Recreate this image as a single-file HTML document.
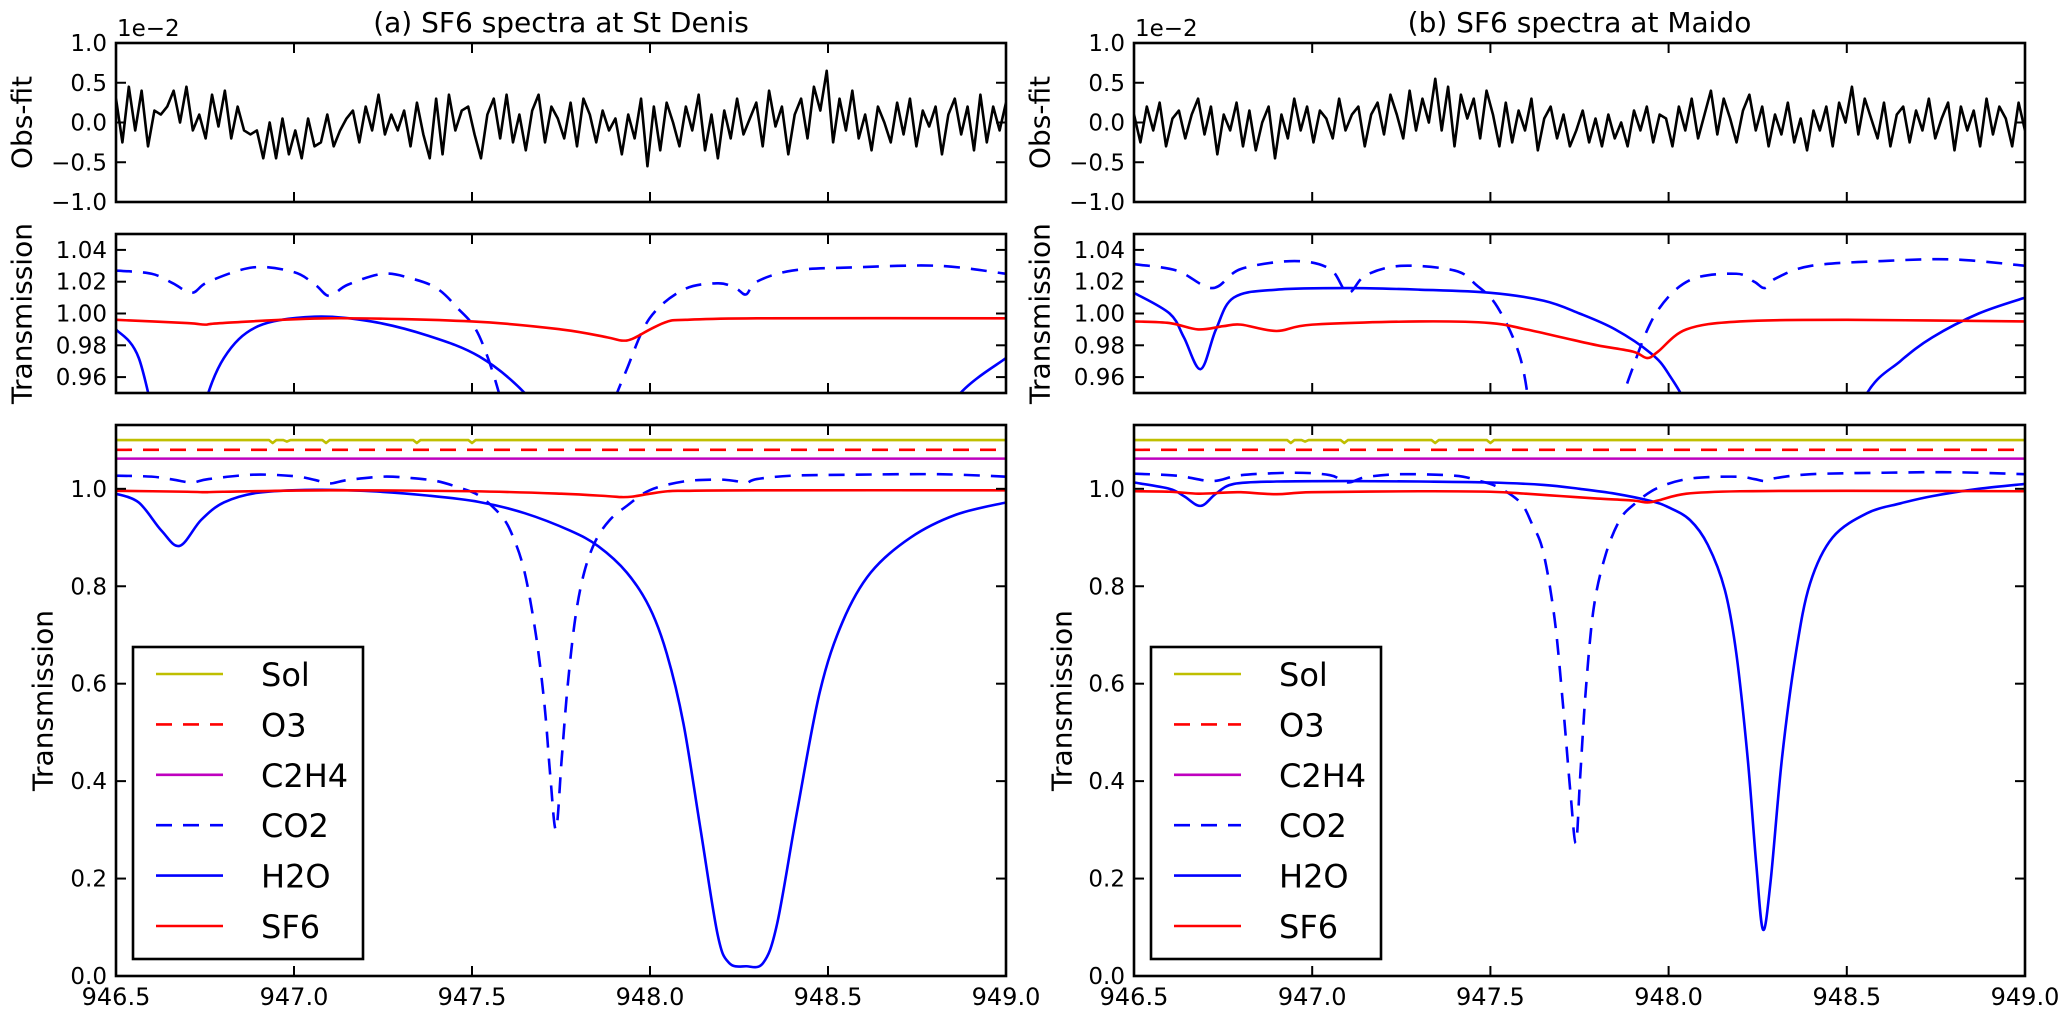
<!DOCTYPE html>
<html><head><meta charset="utf-8"><style>
html,body{margin:0;padding:0;background:#fff;width:2066px;height:1012px;overflow:hidden;}
svg{display:block;font-family:"DejaVu Sans","Liberation Sans",sans-serif;}
</style></head><body>
<svg id="chart" width="2066" height="1012" viewBox="0 0 2066 1012" xmlns="http://www.w3.org/2000/svg"></svg>
<script>
const xTicks=[946.5,947.0,947.5,948.0,948.5,949.0];
const residTicks=[-1.0,-0.5,0.0,0.5,1.0];
const midTicks=[0.96,0.98,1.00,1.02,1.04];
const botTicks=[0.0,0.2,0.4,0.6,0.8,1.0];
const titles=["(a) SF6 spectra at St Denis","(b) SF6 spectra at Maido"];
const legendLabels=["Sol","O3","C2H4","CO2","H2O","SF6"];

const resA=[0.3,-0.25,0.45,-0.1,0.4,-0.3,0.15,0.1,0.2,0.4,0.0,0.45,-0.1,0.1,-0.2,0.35,-0.05,0.4,-0.2,0.2,-0.1,-0.15,-0.1,-0.45,0.0,-0.45,0.05,-0.4,-0.1,-0.45,0.05,-0.3,-0.25,0.1,-0.3,-0.1,0.05,0.15,-0.25,0.2,-0.1,0.35,-0.15,0.1,-0.1,0.15,-0.3,0.25,-0.15,-0.45,0.3,-0.4,0.35,-0.1,0.15,0.2,-0.15,-0.45,0.1,0.3,-0.2,0.35,-0.25,0.1,-0.35,0.15,0.35,-0.25,0.2,0.05,-0.2,0.25,-0.3,0.3,0.1,-0.25,0.15,-0.1,0.05,-0.4,0.1,-0.2,0.3,-0.55,0.2,-0.35,0.25,0.0,-0.3,0.2,-0.1,0.35,-0.35,0.1,-0.45,0.15,-0.2,0.3,-0.15,0.05,0.25,-0.3,0.4,-0.05,0.2,-0.4,0.1,0.3,-0.2,0.45,0.15,0.65,-0.25,0.3,-0.1,0.4,-0.2,0.1,-0.35,0.2,0.0,-0.25,0.25,-0.15,0.3,-0.3,0.15,-0.05,0.2,-0.4,0.1,0.3,-0.15,0.2,-0.35,0.35,-0.25,0.2,-0.1,0.25];
const resB=[0.1,-0.25,0.2,-0.1,0.25,-0.3,0.05,0.15,-0.2,0.1,0.3,-0.15,0.2,-0.4,0.1,-0.1,0.25,-0.3,0.15,-0.35,0.0,0.2,-0.45,0.1,-0.2,0.3,-0.1,0.2,-0.25,0.15,0.05,-0.2,0.3,-0.1,0.1,0.2,-0.3,0.1,0.25,-0.15,0.35,0.1,-0.2,0.4,-0.1,0.3,0.0,0.55,-0.1,0.45,-0.3,0.35,0.05,0.3,-0.2,0.4,0.1,-0.3,0.25,-0.25,0.15,-0.1,0.3,-0.35,0.05,0.2,-0.2,0.1,-0.3,-0.1,0.15,-0.25,0.05,-0.3,0.1,-0.2,0.0,-0.3,0.15,-0.1,0.2,-0.25,0.1,0.05,-0.3,0.2,-0.1,0.3,-0.2,0.1,0.4,-0.15,0.3,0.05,-0.25,0.15,0.35,-0.1,0.2,-0.3,0.1,-0.15,0.25,-0.25,0.05,-0.35,0.15,-0.1,0.2,-0.3,0.25,0.0,0.45,-0.15,0.3,0.05,-0.2,0.25,-0.3,0.1,0.2,-0.25,0.15,-0.1,0.3,-0.2,0.05,0.25,-0.35,0.2,-0.1,0.15,-0.3,0.3,-0.15,0.2,0.05,-0.3,0.25,-0.1];

const solX=[946.5,946.93,946.94,946.95,946.97,946.98,946.99,947.08,947.09,947.1,947.335,947.345,947.355,947.49,947.5,947.51,949];
const solY=[1.1,1.1,1.094,1.1,1.1,1.097,1.1,1.1,1.094,1.1,1.1,1.094,1.1,1.1,1.094,1.1,1.1];
const o3Level=[1.08];
const c2h4Level=[1.062];

const h2oAx=[946.5,946.564,946.628,946.679,946.739,946.803,946.899,947.058,947.217,947.377,947.52,947.648,947.776,947.855,947.935,947.999,948.047,948.094,948.142,948.19,948.222,948.27,948.318,948.357,948.413,948.477,948.541,948.62,948.732,948.86,949.0];
const h2oAy=[0.99,0.972,0.914,0.883,0.936,0.972,0.992,0.998,0.995,0.986,0.973,0.95,0.914,0.882,0.828,0.756,0.662,0.518,0.301,0.085,0.027,0.02,0.027,0.107,0.337,0.583,0.727,0.828,0.9,0.947,0.972];
const co2Ax=[946.5,946.6,946.66,946.713,946.76,946.885,947.0,947.06,947.1,947.15,947.25,947.33,947.4,947.457,947.52,947.584,947.616,947.648,947.68,947.704,947.72,947.736,947.752,947.768,947.79,947.815,947.847,947.887,947.935,947.999,948.094,948.19,948.24,948.27,948.3,948.4,948.573,948.81,949];
const co2Ay=[1.027,1.025,1.019,1.013,1.02,1.029,1.026,1.018,1.011,1.018,1.025,1.022,1.016,1.004,0.986,0.943,0.90,0.828,0.698,0.554,0.41,0.301,0.446,0.59,0.734,0.828,0.893,0.936,0.965,0.997,1.015,1.019,1.016,1.012,1.02,1.027,1.029,1.030,1.025];
const sf6Ax=[946.5,946.7,946.75,946.8,947.1,947.5,947.75,947.88,947.92,947.95,948.0,948.05,948.1,948.3,949];
const sf6Ay=[0.996,0.994,0.993,0.994,0.997,0.995,0.99,0.985,0.983,0.984,0.99,0.995,0.996,0.997,0.997];

const h2oBx=[946.5,946.6,946.64,946.687,946.73,946.78,946.9,947.1,947.3,947.5,947.65,947.75,947.85,947.95,948.0,948.06,948.11,948.158,948.19,948.222,948.246,948.265,948.286,948.318,948.357,948.397,948.46,948.557,948.65,948.74,948.87,949];
const h2oBy=[1.013,1.0,0.985,0.965,0.99,1.01,1.015,1.016,1.015,1.013,1.008,1.0,0.99,0.975,0.962,0.936,0.885,0.792,0.662,0.446,0.229,0.095,0.193,0.446,0.662,0.806,0.9,0.95,0.97,0.985,1.0,1.01];
const co2Bx=[946.5,946.62,946.72,946.8,946.95,947.05,947.1,947.15,947.25,947.4,947.46,947.52,947.584,947.616,947.648,947.68,947.704,947.725,947.74,947.752,947.768,947.79,947.823,947.863,947.903,947.967,948.06,948.19,948.24,948.27,948.3,948.4,948.6,948.8,949];
const co2By=[1.031,1.027,1.016,1.028,1.033,1.028,1.013,1.024,1.03,1.027,1.018,1.004,0.972,0.929,0.871,0.734,0.554,0.373,0.273,0.41,0.59,0.756,0.864,0.936,0.968,1.001,1.021,1.025,1.02,1.016,1.022,1.03,1.033,1.034,1.03];
const sf6Bx=[946.5,946.6,946.68,946.75,946.8,946.9,947.0,947.3,947.5,947.6,947.7,947.8,947.9,947.94,947.97,948.05,948.2,948.5,949];
const sf6By=[0.995,0.994,0.99,0.992,0.993,0.989,0.993,0.995,0.994,0.99,0.985,0.98,0.976,0.972,0.976,0.99,0.995,0.996,0.995];

const NS="http://www.w3.org/2000/svg";
const svg=document.getElementById('chart');
function mk(tag,attrs,parent){const e=document.createElementNS(NS,tag);for(const k in attrs)e.setAttribute(k,attrs[k]);(parent||svg).appendChild(e);return e;}
function fmt(v,d){return (v<0?"\u2212":"")+Math.abs(v).toFixed(d);}
function smoothPath(pts){
  let d="M"+pts[0][0].toFixed(2)+","+pts[0][1].toFixed(2);
  for(let i=0;i<pts.length-1;i++){
    const p0=pts[Math.max(0,i-1)],p1=pts[i],p2=pts[i+1],p3=pts[Math.min(pts.length-1,i+2)];
    const c1=[p1[0]+(p2[0]-p0[0])/6,p1[1]+(p2[1]-p0[1])/6];
    const c2=[p2[0]-(p3[0]-p1[0])/6,p2[1]-(p3[1]-p1[1])/6];
    d+=" C"+c1[0].toFixed(2)+","+c1[1].toFixed(2)+" "+c2[0].toFixed(2)+","+c2[1].toFixed(2)+" "+p2[0].toFixed(2)+","+p2[1].toFixed(2);
  }
  return d;
}
function linePath(pts){return "M"+pts.map(p=>p[0].toFixed(2)+","+p[1].toFixed(2)).join(" L");}

const sites=[
 {x0:116,x1:1006,res:resA,h2oX:h2oAx,h2oY:h2oAy,co2X:co2Ax,co2Y:co2Ay,sf6X:sf6Ax,sf6Y:sf6Ay,ylabX:[22,22,43],tag:"a"},
 {x0:1134,x1:2025,res:resB,h2oX:h2oBx,h2oY:h2oBy,co2X:co2Bx,co2Y:co2By,sf6X:sf6Bx,sf6Y:sf6By,ylabX:[1040,1040,1062],tag:"b"}
];
const panels=[
 {key:"residual",y0:43,y1:202,lo:-1.0,hi:1.0,ticks:residTicks,dec:1,ylabel:"Obs-fit"},
 {key:"zoom",y0:234,y1:393,lo:0.95,hi:1.05,ticks:midTicks,dec:2,ylabel:"Transmission"},
 {key:"full",y0:425,y1:976,lo:0.0,hi:1.131,ticks:botTicks,dec:1,ylabel:"Transmission"}
];

sites.forEach((s,si)=>{
  const X=v=>s.x0+(v-946.5)/(949.0-946.5)*(s.x1-s.x0);
  const t=mk('text',{x:(s.x0+s.x1)/2,y:32,'text-anchor':'middle','font-size':28,fill:'#000'});
  
  
  t.textContent=titles[si];
  panels.forEach((p,pi)=>{
    const Y=v=>p.y1-(v-p.lo)/(p.hi-p.lo)*(p.y1-p.y0);
    const g=mk('g',{});
    
    
    const cid='clip-'+s.tag+'-'+p.key;
    const cp=mk('clipPath',{id:cid},g);
    mk('rect',{x:s.x0,y:p.y0,width:s.x1-s.x0,height:p.y1-p.y0},cp);
    const dg=mk('g',{'clip-path':'url(#'+cid+')'},g);
    function series(xs,ys,color,dash,name,smooth){
      const pts=xs.map((x,i)=>[X(x),Y(ys[i])]);
      const pa=mk('path',{d:smooth?smoothPath(pts):linePath(pts),fill:'none',stroke:color,'stroke-width':2.6,'stroke-linejoin':'round'},dg);
      if(dash)pa.setAttribute('stroke-dasharray',dash);
      
      
    }
    if(p.key==="residual"){
      const n=s.res.length;
      const xs=s.res.map((v,i)=>946.5+i*(2.5/(n-1)));
      series(xs,s.res,'#000',null,'residual',false);
    } else {
      if(p.key==="full"){
        series(solX,solY,'#bfbf00',null,'sol',false);
        series([946.5,949],[o3Level[0],o3Level[0]],'#ff0000','16,11','o3',false);
        series([946.5,949],[c2h4Level[0],c2h4Level[0]],'#bf00bf',null,'c2h4',false);
      }
      series(s.co2X,s.co2Y,'#0000ff','16,11','co2',true);
      series(s.h2oX,s.h2oY,'#0000ff',null,'h2o',true);
      series(s.sf6X,s.sf6Y,'#ff0000',null,'sf6',true);
    }
    p.ticks.forEach(v=>{
      const y=Y(v);
      mk('line',{x1:s.x0,x2:s.x0+10,y1:y,y2:y,stroke:'#000','stroke-width':2},g);
      mk('line',{x1:s.x1,x2:s.x1-10,y1:y,y2:y,stroke:'#000','stroke-width':2},g);
      const tl=mk('text',{x:s.x0-9,y:y+8,'text-anchor':'end','font-size':23,fill:'#000'},g);
      
      
      tl.textContent=fmt(v,p.dec);
    });
    xTicks.forEach(v=>{
      const x=X(v);
      mk('line',{x1:x,x2:x,y1:p.y1,y2:p.y1-10,stroke:'#000','stroke-width':2},g);
      mk('line',{x1:x,x2:x,y1:p.y0,y2:p.y0+10,stroke:'#000','stroke-width':2},g);
      if(p.key==="full"){
        const tl=mk('text',{x:x,y:1005,'text-anchor':'middle','font-size':24,fill:'#000'},g);
        
        
        tl.textContent=v.toFixed(1);
      }
    });
    const fr=mk('rect',{x:s.x0,y:p.y0,width:s.x1-s.x0,height:p.y1-p.y0,fill:'none',stroke:'#000','stroke-width':2.6},g);
    
    
    const lx=s.ylabX[pi],ly=(p.y0+p.y1)/2;
    const yl=mk('text',{x:lx,y:ly,'text-anchor':'middle','font-size':28,fill:'#000',transform:'rotate(-90 '+lx+' '+ly+')','dominant-baseline':'central'},g);
    
    
    yl.textContent=p.ylabel;
    if(p.key==="residual"){
      const ex=mk('text',{x:s.x0+1,y:36,'font-size':23,fill:'#000'},g);
      
      
      ex.textContent="1e\u22122";
    }
  });
  const lg=mk('g',{});
  
  
  const lx0=s.x0+17;
  mk('rect',{x:lx0,y:647,width:230,height:312,fill:'#fff',stroke:'#000','stroke-width':2.6},lg);
  const cols=['#bfbf00','#ff0000','#bf00bf','#0000ff','#0000ff','#ff0000'];
  const dashes=[null,'16,11',null,'16,11',null,null];
  legendLabels.forEach((lab,i)=>{
    const y=674+i*50.4;
    const e=mk('g',{},lg);
    
    
    const ln=mk('line',{x1:lx0+23,x2:lx0+90,y1:y,y2:y,stroke:cols[i],'stroke-width':2.6},e);
    if(dashes[i])ln.setAttribute('stroke-dasharray',dashes[i]);
    const tx=mk('text',{x:lx0+128,y:y+12,'font-size':32,fill:'#000'},e);
    tx.textContent=lab;
  });
});
</script>
</body></html>
